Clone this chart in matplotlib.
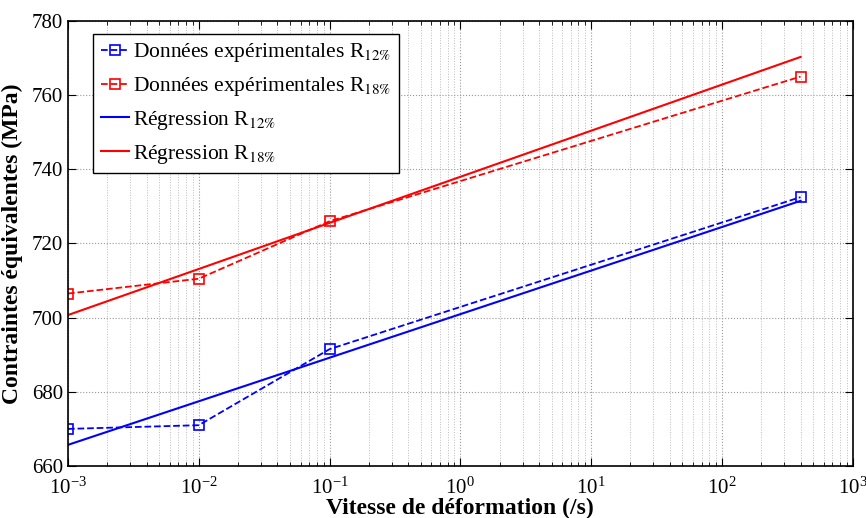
import matplotlib
matplotlib.use("Agg")
import matplotlib.pyplot as plt
from matplotlib.ticker import LogLocator, NullFormatter


# strain rates (/s)
rates = [1e-3, 1e-2, 1e-1, 400]
# measured equivalent stress (MPa)
exp_r12 = [670.0, 671.0, 691.5, 732.5]
exp_r18 = [706.5, 710.5, 726.0, 765.0]
# regression line end points
reg_rates = [1e-3, 400]
reg_r12 = [665.7, 731.5]
reg_r18 = [700.7, 770.3]

y_ticks = [660, 680, 700, 720, 740, 760, 780]

plt.rcParams["font.family"] = ["Liberation Serif", "DejaVu Serif"]
plt.rcParams["mathtext.fontset"] = "stix"

fig = plt.figure(figsize=(8.66, 5.18), dpi=100)
ax = fig.add_axes([0.0785, 0.1004, 0.906, 0.8591])

ax.plot(rates, exp_r12, "--", color="blue", marker="s", markersize=7,
        markerfacecolor="none", markeredgewidth=1.2, lw=1.3,
        label=r"Données expérimentales R$_{\mathrm{12\%}}$")
ax.plot(rates, exp_r18, "--", color="red", marker="s", markersize=7,
        markerfacecolor="none", markeredgewidth=1.2, lw=1.3,
        label=r"Données expérimentales R$_{\mathrm{18\%}}$")
ax.plot(reg_rates, reg_r12, "-", color="blue", lw=1.5,
        label=r"Régression R$_{\mathrm{12\%}}$")
ax.plot(reg_rates, reg_r18, "-", color="red", lw=1.5,
        label=r"Régression R$_{\mathrm{18\%}}$")

ax.set_xscale("log")
ax.set_xlim(1e-3, 1e3)
ax.set_ylim(660, 780)
ax.set_yticks(y_ticks)
ax.xaxis.set_minor_locator(LogLocator(base=10, subs=range(2, 10)))
ax.xaxis.set_minor_formatter(NullFormatter())

ax.grid(True, which="major", ls=":", color="#999999", lw=0.8)
ax.grid(True, which="minor", axis="x", ls=":", color="#bbbbbb", lw=0.7)
ax.tick_params(which="both", direction="in", top=True, right=True, labelsize=15)
ax.tick_params(which="major", length=6)
ax.tick_params(which="minor", length=3)
ax.tick_params(axis="x", which="major", pad=8)
for s in ax.spines.values():
    s.set_linewidth(1.2)

ax.set_xlabel("Vitesse de déformation (/s)", fontsize=17, fontweight="bold", labelpad=0)
ax.set_ylabel("Contraintes équivalentes (MPa)", fontsize=17, fontweight="bold", labelpad=6)

leg = ax.legend(loc="upper left", bbox_to_anchor=(0.032, 0.971), borderaxespad=0,
                fontsize=15.5, fancybox=False, edgecolor="black", framealpha=1,
                handlelength=1.3, handletextpad=0.2, labelspacing=0.5,
                borderpad=0.35)
leg.get_frame().set_linewidth(1.0)

fig.savefig("out.png", dpi=100)
